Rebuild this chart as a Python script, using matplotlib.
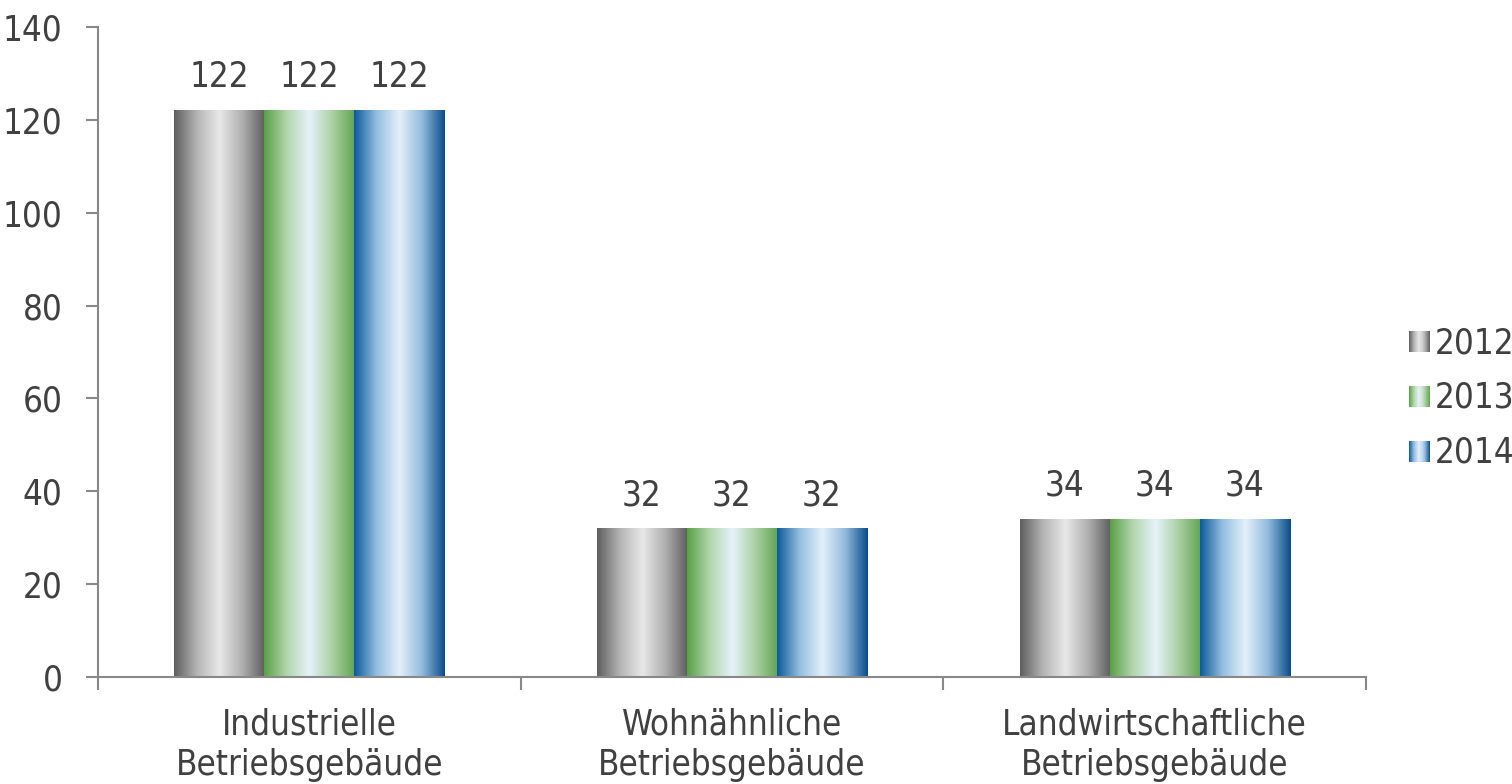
import matplotlib
matplotlib.use('Agg')
import matplotlib.pyplot as plt
import numpy as np
from matplotlib.colors import LinearSegmentedColormap
from matplotlib.patches import Rectangle
from matplotlib.legend_handler import HandlerBase

# data
categories = ['Industrielle\nBetriebsgebäude', 'Wohnähnliche\nBetriebsgebäude',
              'Landwirtschaftliche\nBetriebsgebäude']
years = ['2012', '2013', '2014']
v2012 = [122, 32, 34]
v2013 = [122, 32, 34]
v2014 = [122, 32, 34]
series = [v2012, v2013, v2014]

# gradient stops per series: left edge -> centre -> right edge
grads = [
    ['#5e5e5e', '#b4b4b4', '#e8e8e8', '#b0b0b0', '#5e5e5e'],
    ['#58a046', '#b2d6ac', '#e6f2fb', '#acd1a4', '#62a452'],
    ['#0c5a9a', '#94bfe0', '#e4f0fb', '#92bbdc', '#0a4c8a'],
]
cmaps = [LinearSegmentedColormap.from_list('g%d' % i, c) for i, c in enumerate(grads)]

plt.rcParams['font.family'] = ['DejaVu Sans']
plt.rcParams['font.stretch'] = 'condensed'
txt = '#404040'
fs = 25

fig = plt.figure(figsize=(15.12, 7.84), dpi=100)
ax = fig.add_axes([98/1512, 1-677/784, (1366-98)/1512, 650/784])

ramp = np.linspace(0, 1, 256).reshape(1, -1)
bw = 0.213
x = np.arange(len(categories))
for i, vals in enumerate(series):
    for j, v in enumerate(vals):
        x0 = x[j] + (i - 1.5) * bw
        ax.imshow(ramp, cmap=cmaps[i], extent=(x0, x0 + bw, 0, v),
                  aspect='auto', interpolation='bicubic', zorder=2)
        ax.text(x0 + bw/2, v + 3.5, str(v), ha='center', va='bottom',
                fontsize=fs, color=txt)

ax.set_xlim(-0.5, 2.5)
ax.set_ylim(0, 140)
ax.set_yticks(np.arange(0, 141, 20))
ax.set_xticks([-0.5, 0.5, 1.5, 2.5])
ax.set_xticklabels([])
ax.set_xticks(x, minor=True)
ax.set_xticklabels(categories, minor=True)
ax.tick_params(axis='x', which='minor', length=0, pad=22, labelsize=fs, labelcolor=txt)
ax.tick_params(axis='x', which='major', length=9, color='#888888', width=1.5)
ax.tick_params(axis='y', length=8.5, color='#888888', width=1.5, labelsize=fs,
               labelcolor=txt, pad=17)
for s in ['top', 'right']:
    ax.spines[s].set_visible(False)
for s in ['left', 'bottom']:
    ax.spines[s].set_color('#888888')
    ax.spines[s].set_linewidth(1.5)
for lab in ax.get_xticklabels(minor=True):
    lab.set_linespacing(1.25)


class GradHandler(HandlerBase):
    def create_artists(self, legend, orig_handle, xdescent, ydescent,
                       width, height, fontsize, trans):
        cm = orig_handle.cmap
        n = 20
        arts = []
        size = min(width, height)
        x0 = -xdescent + width - size
        for k in range(n):
            r = Rectangle((x0 + k * size / n, -ydescent), size / n + 0.3, size,
                          facecolor=cm((k + 0.5) / n), edgecolor='none',
                          transform=trans)
            arts.append(r)
        return arts


class GHandle:
    def __init__(self, cmap):
        self.cmap = cmap


handles = [GHandle(c) for c in cmaps]
leg = fig.legend(handles, years, handler_map={GHandle: GradHandler()},
                 loc='center left', bbox_to_anchor=(1409/1512, 1-398/784),
                 frameon=False, fontsize=fs, labelcolor=txt, handlelength=0.6,
                 handleheight=0.6, handletextpad=0.15, labelspacing=0.6,
                 borderpad=0, borderaxespad=0)

fig.savefig('out.png', dpi=100)
